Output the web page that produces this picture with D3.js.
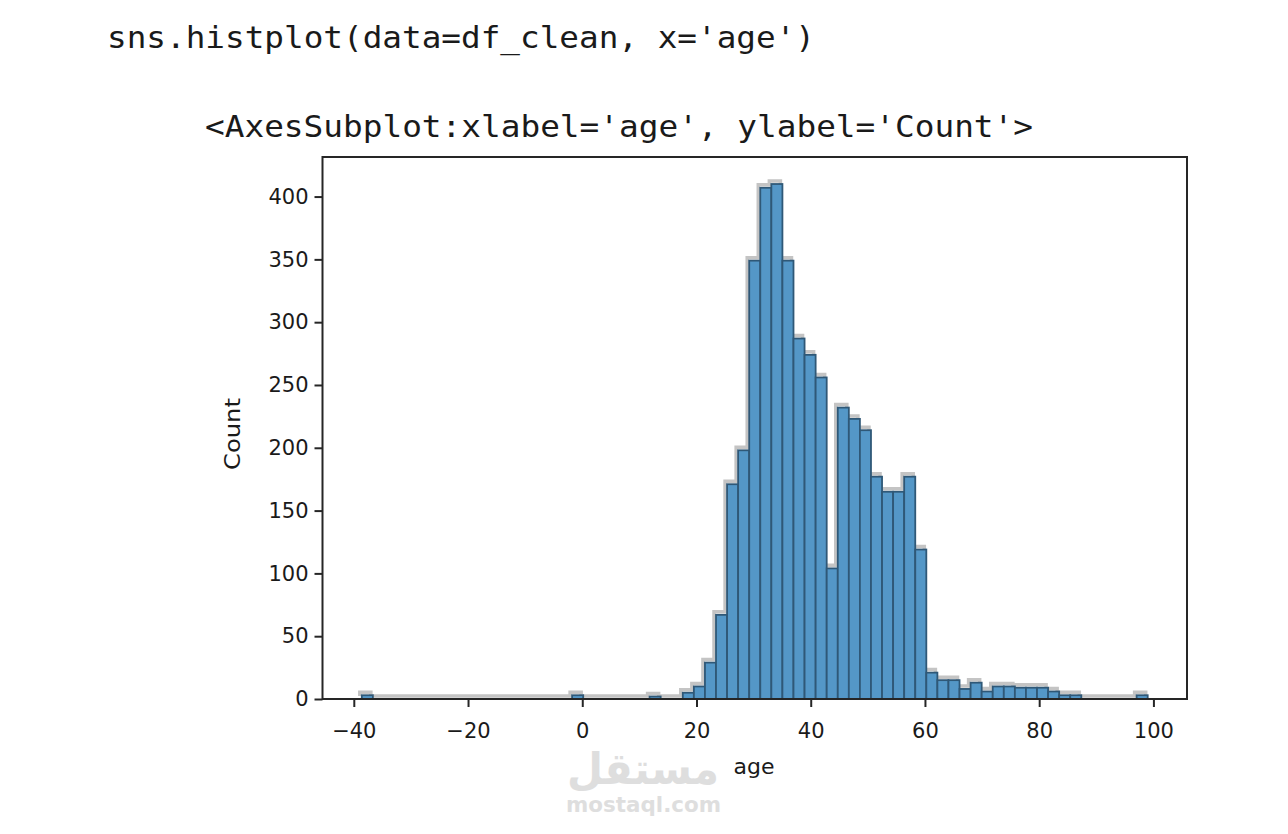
<!DOCTYPE html>
<html>
<head>
<meta charset="utf-8">
<script src="https://cdn.jsdelivr.net/npm/d3@7/dist/d3.min.js"></script>
<style>
  html, body { margin: 0; padding: 0; background: #fff; }
  svg { display: block; }
</style>
</head>
<body>
<svg id="chart" width="1288" height="834"></svg>
<script>
// ---- data ----
const codeLine = "sns.histplot(data=df_clean, x='age')";
const outLine = "<AxesSubplot:xlabel='age', ylabel='Count'>";
const xLabel = "age";
const yLabel = "Count";
const binStart = -38.6;
const binEnd = 99.0;
// counts per bin (71 equal-width bins from binStart to binEnd)
const counts = [
  3, 0, 0, 0, 0, 0, 0, 0, 0, 0,
  0, 0, 0, 0, 0, 0, 0, 0, 0, 3,
  0, 0, 0, 0, 0, 0, 2, 0, 0, 5,
  10, 29, 67, 171, 198, 349, 407, 410, 349, 287,
  274, 256, 104, 232, 223, 214, 177, 165, 165, 177,
  119, 21, 15, 15, 8, 13, 6, 10, 10, 9,
  9, 9, 6, 3, 3, 0, 0, 0, 0, 0,
  3
];
const xTicks = [-40, -20, 0, 20, 40, 60, 80, 100];
const yTicks = [0, 50, 100, 150, 200, 250, 300, 350, 400];

// ---- layout ----
const svg = d3.select("#chart");
const L = 322.5, R = 1187, T = 157, B = 699;
const nBins = counts.length;
const bw = (binEnd - binStart) / nBins;
const span = binEnd - binStart;
const x = d3.scaleLinear()
  .domain([binStart - span * 0.05, binEnd + span * 0.05])
  .range([L, R]);
const y = d3.scaleLinear().domain([0, 431.5]).range([B, T]);

const bins = counts.map((c, i) => ({
  x0: binStart + i * bw,
  x1: binStart + (i + 1) * bw,
  c
}));

// code text
svg.append("text")
  .attr("x", 107).attr("y", 48)
  .attr("font-family", "DejaVu Sans Mono, monospace")
  .attr("font-size", 31)
  .attr("fill", "#1a1a1a")
  .attr("textLength", 708).attr("lengthAdjust", "spacingAndGlyphs")
  .text(codeLine);
svg.append("text")
  .attr("x", 205).attr("y", 137)
  .attr("font-family", "DejaVu Sans Mono, monospace")
  .attr("font-size", 31)
  .attr("fill", "#1a1a1a")
  .attr("textLength", 828).attr("lengthAdjust", "spacingAndGlyphs")
  .text(outLine);

// grey halo outline (step)
const pts = [];
pts.push([bins[0].x0, 0]);
bins.forEach(b => { pts.push([b.x0, b.c]); pts.push([b.x1, b.c]); });
pts.push([bins[nBins - 1].x1, 0]);
const line = d3.line().x(d => x(d[0])).y(d => y(d[1]));
svg.append("path")
  .attr("d", line(pts))
  .attr("transform", "translate(-2,-3)")
  .attr("fill", "none")
  .attr("stroke", "#c4c4c4")
  .attr("stroke-width", 3.5);

// bars
svg.append("g").selectAll("rect")
  .data(bins.filter(b => b.c > 0))
  .join("rect")
  .attr("x", d => x(d.x0))
  .attr("y", d => y(d.c))
  .attr("width", d => x(d.x1) - x(d.x0))
  .attr("height", d => y(0) - y(d.c))
  .attr("fill", "#5497c7")
  .attr("stroke", "#2f5877")
  .attr("stroke-width", 1.8);

// frame
svg.append("rect")
  .attr("x", L).attr("y", T)
  .attr("width", R - L).attr("height", B - T)
  .attr("fill", "none")
  .attr("stroke", "#262626")
  .attr("stroke-width", 2);

// x axis
const xAxis = svg.append("g")
  .attr("transform", `translate(0,${B})`)
  .call(d3.axisBottom(x).tickValues(xTicks).tickSize(8).tickPadding(13));
// y axis
const yAxis = svg.append("g")
  .attr("transform", `translate(${L},0)`)
  .call(d3.axisLeft(y).tickValues(yTicks).tickSize(8).tickPadding(6));
[xAxis, yAxis].forEach(g => {
  g.select(".domain").remove();
  g.selectAll(".tick line").attr("stroke", "#262626").attr("stroke-width", 2);
  g.selectAll(".tick text")
    .attr("font-family", "DejaVu Sans, sans-serif")
    .attr("font-size", 21)
    .attr("fill", "#1a1a1a");
});
xAxis.selectAll(".tick text").attr("dy", "0.85em");

// axis labels
svg.append("text")
  .attr("x", 754).attr("y", 774)
  .attr("text-anchor", "middle")
  .attr("font-family", "DejaVu Sans, sans-serif")
  .attr("font-size", 22)
  .attr("fill", "#1a1a1a")
  .text(xLabel);
svg.append("text")
  .attr("transform", `translate(240,${(T + B) / 2 + 6}) rotate(-90)`)
  .attr("text-anchor", "middle")
  .attr("font-family", "DejaVu Sans, sans-serif")
  .attr("font-size", 22)
  .attr("fill", "#1a1a1a")
  .attr("textLength", 72).attr("lengthAdjust", "spacingAndGlyphs")
  .text(yLabel);

// watermark
svg.append("text")
  .attr("x", 567).attr("y", 784)
  .attr("font-family", "DejaVu Sans, sans-serif")
  .attr("font-weight", "bold")
  .attr("font-size", 44)
  .attr("fill", "#dedede")
  .attr("textLength", 152).attr("lengthAdjust", "spacingAndGlyphs")
  .text("مستقل");
svg.append("text")
  .attr("x", 566).attr("y", 812)
  .attr("font-family", "DejaVu Sans, sans-serif")
  .attr("font-weight", "bold")
  .attr("font-size", 21)
  .attr("fill", "#dedede")
  .attr("textLength", 155).attr("lengthAdjust", "spacingAndGlyphs")
  .text("mostaql.com");
</script>
</body>
</html>
